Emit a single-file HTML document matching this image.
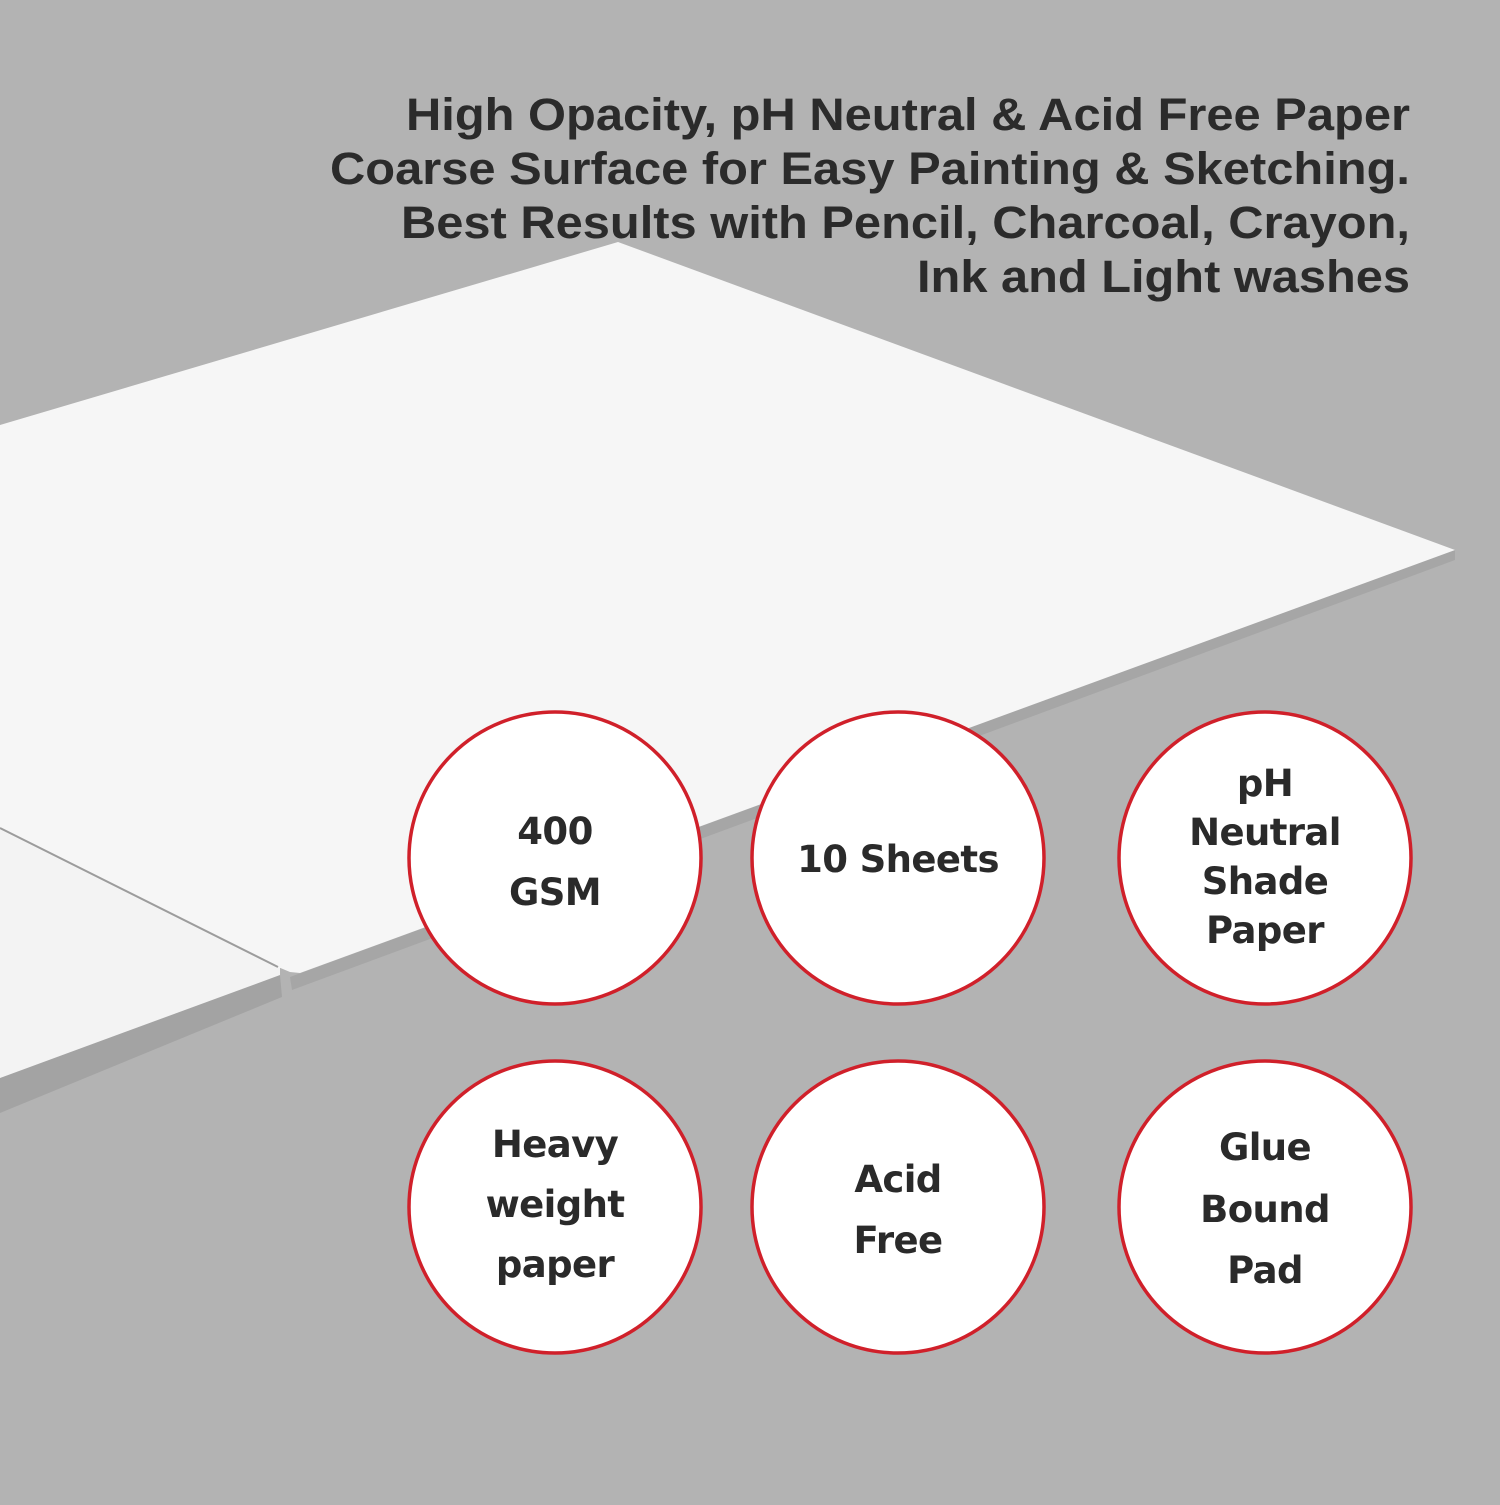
<!DOCTYPE html>
<html><head><meta charset="utf-8"><style>html,body{margin:0;padding:0;background:#b3b3b3}</style></head>
<body>
<svg width="1500" height="1500" viewBox="0 0 1500 1500" xmlns="http://www.w3.org/2000/svg">
<rect width="1500" height="1500" fill="#b3b3b3"/>
<polygon points="0,1078 280,975 282,997 0,1113" fill="#a3a3a3"/>
<polygon points="1455,550 290,977 292,990 1455,560" fill="#a6a6a6"/>
<polygon points="0,820 280,962 280,975 0,1078" fill="#f3f3f3"/>
<polygon points="0,425 618,242 1455,550 300,973 290,972 278,967 0,828" fill="#f6f6f6"/>
<line x1="0" y1="828" x2="278" y2="967" stroke="#9c9c9c" stroke-width="2"/>
<g font-family="Liberation Sans, Arial, sans-serif" font-weight="bold" fill="#2b2b2b" font-size="45" text-anchor="end">
<text x="1410" y="130" textLength="1004" lengthAdjust="spacingAndGlyphs">High Opacity, pH Neutral &amp; Acid Free Paper</text>
<text x="1410" y="184" textLength="1080" lengthAdjust="spacingAndGlyphs">Coarse Surface for Easy Painting &amp; Sketching.</text>
<text x="1410" y="238" textLength="1009" lengthAdjust="spacingAndGlyphs">Best Results with Pencil, Charcoal, Crayon,</text>
<text x="1410" y="292" textLength="493" lengthAdjust="spacingAndGlyphs">Ink and Light washes</text>
</g>
<g fill="#ffffff" stroke="#d0202a" stroke-width="3.5">
<circle cx="555" cy="858" r="146"/><circle cx="898" cy="858" r="146"/><circle cx="1265" cy="858" r="146"/>
<circle cx="555" cy="1207" r="146"/><circle cx="898" cy="1207" r="146"/><circle cx="1265" cy="1207" r="146"/>
</g>
<g font-family="DejaVu Sans, Liberation Sans, sans-serif" font-weight="bold" fill="#2a2a2a" font-size="37" letter-spacing="-0.6" text-anchor="middle">
<text x="555" y="844">400</text><text x="555" y="905">GSM</text>
<text x="898" y="872">10 Sheets</text>
<text x="1265" y="796">pH</text><text x="1265" y="845">Neutral</text><text x="1265" y="894">Shade</text><text x="1265" y="943">Paper</text>
<text x="555" y="1157">Heavy</text><text x="555" y="1217">weight</text><text x="555" y="1277">paper</text>
<text x="898" y="1192">Acid</text><text x="898" y="1253">Free</text>
<text x="1265" y="1160">Glue</text><text x="1265" y="1222">Bound</text><text x="1265" y="1283">Pad</text>
</g>
</svg>
</body></html>
